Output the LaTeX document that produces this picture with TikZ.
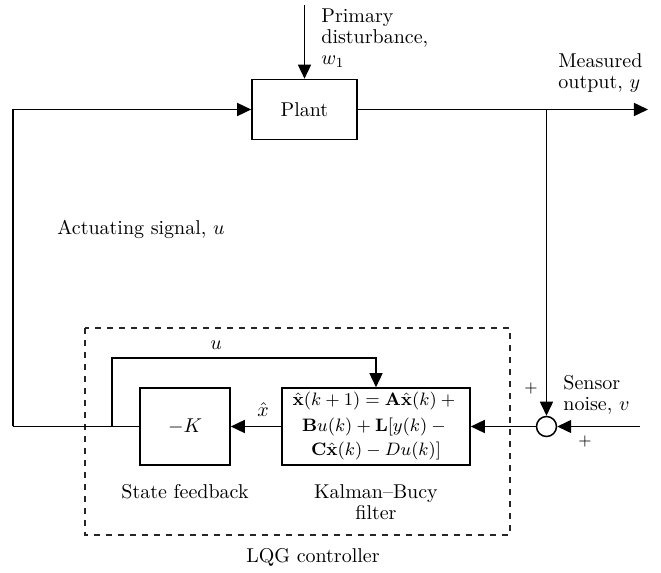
\documentclass[tikz,border=0pt]{standalone}
\usepackage{amsmath}
\usepackage{bm}
\usetikzlibrary{arrows.meta,positioning}
\tikzset{
  blk/.style={draw,line width=0.8pt,align=center,inner sep=0pt},
  sig/.style={line width=0.75pt},
  fl/.style={sig,-{Triangle[length=7pt,width=6.5pt]}},
  lbl/.style={align=left,inner sep=0pt,font=\fontsize{10}{10.5}\selectfont},
  sgn/.style={inner sep=0pt,font=\footnotesize},
  sumj/.style={draw,circle,line width=0.75pt,minimum size=10pt,inner sep=0pt,fill=white},
  ctl/.style={draw,dashed,line width=0.6pt,gray!30!black},
}
\begin{document}
\begin{tikzpicture}[x=0.5pt,y=-0.5pt,font=\fontsize{10}{10.5}\selectfont]
\useasboundingbox (0,0) rectangle (661,573);
\draw[ctl] (85,328) rectangle (510,535);
\node[blk,minimum width=52.5pt,minimum height=30pt] (plant) at (304.5,109.5) {Plant};
\node[blk,minimum width=45pt,minimum height=38.5pt] (fb) at (185,426.5) {$-K$};
\node[blk,minimum width=94pt,minimum height=38.5pt,font=\fontsize{9}{12.5}\selectfont] (kbf) at (376,426.5)
  {$\hat{\mathbf{x}}(k+1)=\mathbf{A}\hat{\mathbf{x}}(k)+{}$\\
   $\mathbf{B}u(k)+\mathbf{L}[y(k)-{}$\\
   $\mathbf{C}\hat{\mathbf{x}}(k)-Du(k)]$};
\node[sumj] (sum) at (546.5,426.5) {};
\coordinate (wtop) at (304.5,5);
\coordinate (yout) at (648,109.5);
\coordinate (ytap) at (546.5,109.5);
\coordinate (vin) at (640,426.5);
\coordinate (utap) at (112,426.5);
\coordinate (utop) at (216,358);
\coordinate (ucorner) at (13,426.5);
\node[lbl,anchor=north west] (wlab) at (321,8) {Primary\\disturbance,\\$w_1$};
\node[lbl,anchor=north west] (ylab) at (558,53) {Measured\\output, $y$};
\node[lbl] (ulab) at (141,229) {Actuating signal, $u$};
\node[lbl,anchor=north west] (vlab) at (563,375) {Sensor\\noise, $v$};
\node[lbl] (uin) at (216,345) {$u$};
\node[lbl] (xhat) at (263,410) {$\hat{x}$};
\node[sgn] (p1) at (531,389) {$+$};
\node[sgn] (p2) at (585,441) {$+$};
\node[lbl,below=9pt of fb] (fbcap) {State feedback};
\node[lbl,align=center,below=9pt of kbf] (kbfcap) {Kalman--Bucy\\filter};
\node[lbl] (lqg) at (313,557) {LQG controller};
\draw[fl] (wtop) -- (plant);
\draw[fl] (plant) -- (yout);
\draw[fl] (ytap) -- (sum);
\draw[fl] (vin) -- (sum);
\draw[fl] (sum) -- (kbf);
\draw[fl] (kbf) -- (fb);
\draw[sig] (fb) -- (ucorner);
\draw[fl] (ucorner) |- (plant);
\draw[fl] (utap) |- (utop) -| (kbf);
\end{tikzpicture}
\end{document}
